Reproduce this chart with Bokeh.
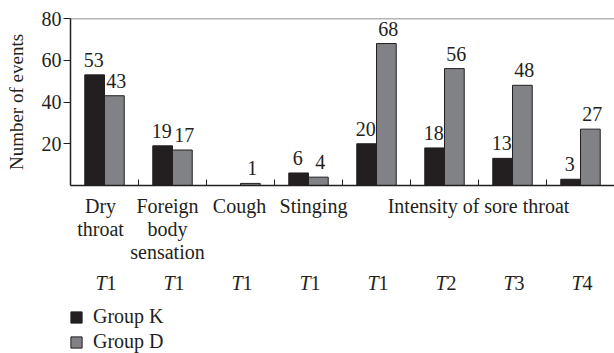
from bokeh.plotting import figure
from bokeh.layouts import column
from bokeh.models import (ColumnDataSource, Range1d, FixedTicker, LabelSet, Legend,
                          LegendItem, Span)
from bokeh.core.properties import value
from bokeh.transform import dodge
from bokeh.embed import file_html
from bokeh.resources import INLINE

# ---- data ----
group_labels = ["Dry\nthroat", "Foreign\nbody\nsensation", "Cough", "Stinging",
                "Intensity of sore throat"]
group_sizes = [1, 1, 1, 1, 4]
time_points = ["1", "1", "1", "1", "1", "2", "3", "4"]
group_k = [53, 19, 0, 6, 20, 18, 13, 3]
group_d = [43, 17, 1, 4, 68, 56, 48, 27]
series_names = ["Group K", "Group D"]
y_ticks = [20, 40, 60, 80]

FONT = "Liberation Serif"
TXT = "#231f20"
K_COLOR = "#231f20"
D_COLOR = "#808285"
FS = "20px"

W = 614
LEFT = 70          # frame left (px)
TOP = 18           # frame top (px)
AXIS_Y = 185       # x-axis line (px)
GAP = 3            # bottom border of upper figure
H_TOTAL = 353
group_label_nudge = [-4, -5, -1, 5, 0]   # px, per group label

n = len(group_k)
centers = [i + 0.5 for i in range(n)]
src = ColumnDataSource(dict(x=centers, k=group_k, d=group_d))

# ---------------- main chart ----------------
p = figure(width=W, height=AXIS_Y + GAP, output_backend="svg", toolbar_location=None,
           x_range=Range1d(0, n), y_range=Range1d(0, 80),
           min_border_left=LEFT, min_border_right=0, min_border_top=TOP,
           min_border_bottom=GAP, outline_line_color=None)
p.grid.visible = False

bw = 0.29
bar_style = dict(width=bw, line_color="#231f20", line_width=1)
rk = p.vbar(x=dodge("x", -bw / 2, range=p.x_range), top="k", source=src,
            fill_color=K_COLOR, **bar_style)
rd = p.vbar(x=dodge("x", bw / 2, range=p.x_range), top="d", source=src,
            fill_color=D_COLOR, **bar_style)

# value labels (zero values carry no label)
kx = [c - bw / 2 for c, v in zip(centers, group_k) if v > 0]
kv = [v for v in group_k if v > 0]
dx = [c + bw / 2 for c, v in zip(centers, group_d) if v > 0]
dv = [v for v in group_d if v > 0]
k_src = ColumnDataSource(dict(x=kx, y=kv, t=[str(v) for v in kv]))
d_src = ColumnDataSource(dict(x=dx, y=dv, t=[str(v) for v in dv]))
lab_style = dict(y_offset=8, text_align="center", text_baseline="alphabetic",
                 text_font=FONT, text_font_size=FS, text_color=TXT)
p.add_layout(LabelSet(x="x", y="y", text="t", source=k_src, x_offset=-1, **lab_style))
p.add_layout(LabelSet(x="x", y="y", text="t", source=d_src, x_offset=2, **lab_style))

p.yaxis.ticker = FixedTicker(ticks=y_ticks)
p.yaxis.bounds = (0, 80)
p.yaxis.axis_label = "Number of events"
p.yaxis.axis_label_text_font = FONT
p.yaxis.axis_label_text_font_style = "normal"
p.yaxis.axis_label_text_font_size = "19px"
p.yaxis.axis_label_text_color = TXT
p.yaxis.axis_label_standoff = 12
p.yaxis.major_label_text_font = FONT
p.yaxis.major_label_text_font_size = FS
p.yaxis.major_label_text_color = TXT
p.yaxis.major_label_standoff = 2
p.yaxis.major_tick_in = 0
p.yaxis.major_tick_out = 7
p.yaxis.minor_tick_line_color = None
p.yaxis.axis_line_color = "#231f20"
p.yaxis.axis_line_width = 1.5
p.yaxis.major_tick_line_color = "#231f20"

x_ticks = list(range(1, n))
p.xaxis.ticker = FixedTicker(ticks=x_ticks)
p.xaxis.major_label_overrides = {t: "" for t in x_ticks}
p.xaxis.major_label_standoff = 0
p.xaxis.major_tick_in = 6
p.xaxis.major_tick_out = 0
p.xaxis.minor_tick_line_color = None
p.xaxis.axis_line_color = "#231f20"
p.xaxis.axis_line_width = 1.5
p.xaxis.major_tick_line_color = "#231f20"

p.add_layout(Span(location=80, dimension="width", line_color="#6d6e71", line_width=1.5))

# ---------------- labels + legend below ----------------
H2 = H_TOTAL - AXIS_Y - GAP
q = figure(width=W, height=H2, output_backend="svg", toolbar_location=None,
           x_range=p.x_range, y_range=Range1d(-(H_TOTAL - AXIS_Y), -GAP),
           x_axis_type=None, y_axis_type=None,
           min_border_left=LEFT, min_border_right=0, min_border_top=0,
           min_border_bottom=0, outline_line_color=None)
q.grid.visible = False

gc = []
start = 0
for s in group_sizes:
    gc.append(start + s / 2)
    start += s
q.text(x=gc, y=[-9] * len(gc), text=group_labels, x_offset=group_label_nudge,
       text_align="center", text_baseline="top", text_line_height=1.05,
       text_font=value(FONT), text_font_size=FS, text_color=TXT)

q.text(x=centers, y=[-97] * n, text=["T"] * n, x_offset=2, text_align="right",
       text_baseline="alphabetic", text_font=value(FONT), text_font_style="italic",
       text_font_size=FS, text_color=TXT)
q.text(x=centers, y=[-97] * n, text=time_points, x_offset=2, text_align="left",
       text_baseline="alphabetic", text_font=value(FONT), text_font_size=FS,
       text_color=TXT)

# legend swatches: renderers that carry only the bar styles (no drawable rows)
swatch_src = ColumnDataSource(dict(x=[float("nan")], top=[float("nan")]))
lk = q.vbar(x="x", top="top", source=swatch_src, fill_color=K_COLOR, **bar_style)
ld = q.vbar(x="x", top="top", source=swatch_src, fill_color=D_COLOR, **bar_style)
legend = Legend(items=[LegendItem(label=series_names[0], renderers=[lk]),
                       LegendItem(label=series_names[1], renderers=[ld])],
                location=(-1, 0), orientation="vertical",
                glyph_width=14, glyph_height=14, label_height=19, spacing=2,
                label_standoff=10, padding=0, margin=0,
                border_line_color=None, background_fill_alpha=0,
                label_text_font=FONT, label_text_font_size=FS, label_text_color=TXT,
                label_text_baseline="middle")
q.add_layout(legend)

layout = column(p, q, spacing=0)
open("out.html", "w").write(file_html(layout, INLINE))
